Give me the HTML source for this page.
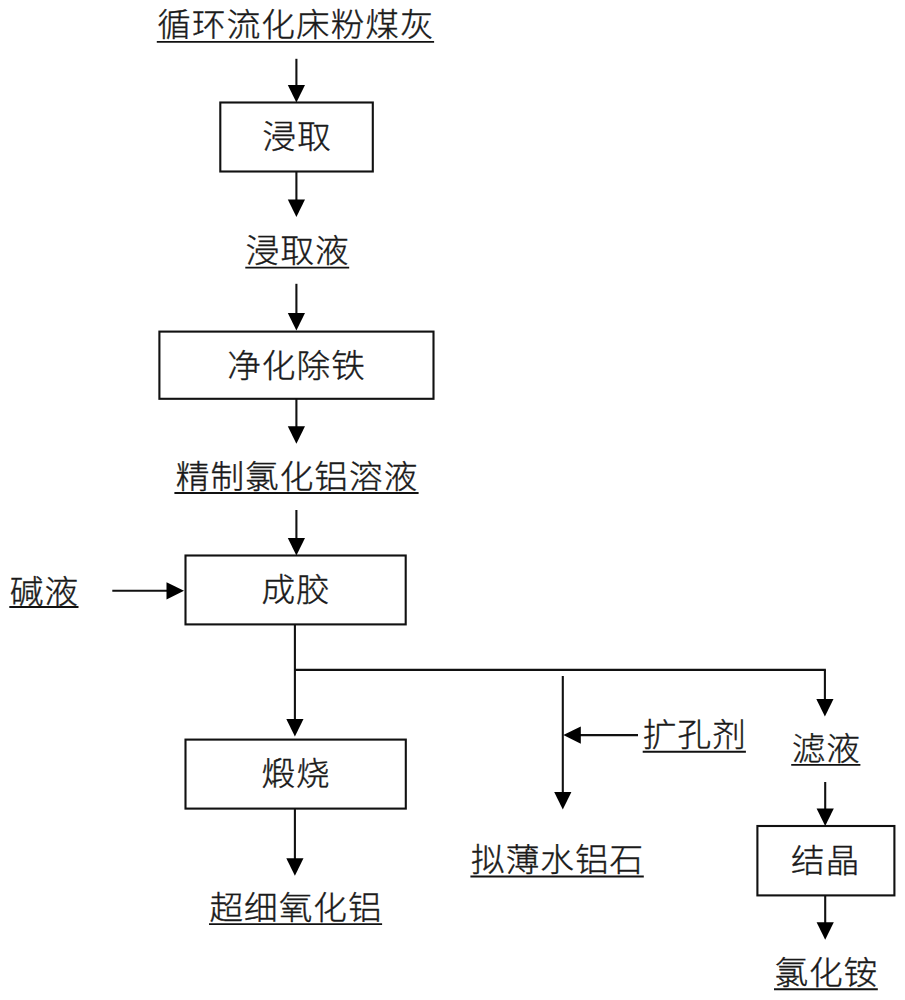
<!DOCTYPE html>
<html lang="zh-CN"><head><meta charset="utf-8"><title>工艺流程图</title>
<style>
html,body{margin:0;padding:0;background:#fff;}
body{width:905px;height:1000px;overflow:hidden;}
svg{display:block;}
text{font-family:"Liberation Sans", "Noto Sans CJK SC", sans-serif;font-size:33.6px;font-weight:300;letter-spacing:1.067px;fill:#1a1a1a;stroke:#1a1a1a;stroke-width:0.4px;text-anchor:middle;}
.ln{stroke:#111;stroke-width:2.1;fill:none;}
.bx{stroke:#111;stroke-width:2.1;fill:#fff;}
.hd{fill:#000;stroke:none;}
.ul{stroke:#111;stroke-width:1.9;fill:none;}
</style></head><body>
<svg width="905" height="1000" viewBox="0 0 905 1000" role="img" aria-label="循环流化床粉煤灰制备超细氧化铝工艺流程图">
<rect x="0" y="0" width="905" height="1000" fill="#fff"/>
<rect class="bx" x="220.30" y="102.50" width="152.50" height="69.00"/>
<rect class="bx" x="159.40" y="331.60" width="274.10" height="67.20"/>
<rect class="bx" x="185.50" y="555.50" width="220.20" height="68.90"/>
<rect class="bx" x="185.50" y="739.60" width="220.30" height="69.00"/>
<rect class="bx" x="757.40" y="826.00" width="137.00" height="69.40"/>
<line class="ln" x1="294.90" y1="669.90" x2="825.90" y2="669.90"/>
<line class="ln" x1="296.40" y1="58.80" x2="296.40" y2="86.90"/>
<polygon class="hd" points="296.40,102.40 287.80,84.90 305.00,84.90"/>
<line class="ln" x1="296.40" y1="171.50" x2="296.40" y2="201.50"/>
<polygon class="hd" points="296.40,217.00 287.80,199.50 305.00,199.50"/>
<line class="ln" x1="296.40" y1="283.80" x2="296.40" y2="314.90"/>
<polygon class="hd" points="296.40,330.40 287.80,312.90 305.00,312.90"/>
<line class="ln" x1="296.40" y1="398.80" x2="296.40" y2="428.30"/>
<polygon class="hd" points="296.40,443.80 287.80,426.30 305.00,426.30"/>
<line class="ln" x1="296.40" y1="510.00" x2="296.40" y2="539.90"/>
<polygon class="hd" points="296.40,555.40 287.80,537.90 305.00,537.90"/>
<line class="ln" x1="294.90" y1="624.40" x2="294.90" y2="721.00"/>
<polygon class="hd" points="294.90,736.50 286.30,719.00 303.50,719.00"/>
<line class="ln" x1="562.80" y1="676.00" x2="562.80" y2="793.90"/>
<polygon class="hd" points="562.80,809.40 554.20,791.90 571.40,791.90"/>
<line class="ln" x1="638.00" y1="735.10" x2="578.80" y2="735.10"/>
<polygon class="hd" points="563.30,735.10 580.80,726.50 580.80,743.70"/>
<line class="ln" x1="824.90" y1="670.00" x2="824.90" y2="701.10"/>
<polygon class="hd" points="824.90,716.60 816.30,699.10 833.50,699.10"/>
<line class="ln" x1="825.20" y1="782.00" x2="825.20" y2="810.50"/>
<polygon class="hd" points="825.20,826.00 816.60,808.50 833.80,808.50"/>
<line class="ln" x1="825.20" y1="895.40" x2="825.20" y2="924.30"/>
<polygon class="hd" points="825.20,939.80 816.60,922.30 833.80,922.30"/>
<line class="ln" x1="294.90" y1="808.60" x2="294.90" y2="860.30"/>
<polygon class="hd" points="294.90,875.80 286.30,858.30 303.50,858.30"/>
<line class="ln" x1="112.30" y1="590.80" x2="168.50" y2="590.80"/>
<polygon class="hd" points="184.00,590.80 166.50,599.40 166.50,582.20"/>
<text transform="translate(295.98 36.40) scale(1 0.96)">循环流化床粉煤灰</text>
<line class="ul" x1="156.80" y1="41.90" x2="434.10" y2="41.90"/>
<text transform="translate(297.13 148.40) scale(1 0.96)">浸取</text>
<text transform="translate(297.73 262.40) scale(1 0.96)">浸取液</text>
<line class="ul" x1="245.30" y1="267.60" x2="349.20" y2="267.60"/>
<text transform="translate(296.53 376.90) scale(1 0.96)">净化除铁</text>
<text transform="translate(297.03 488.20) scale(1 0.96)">精制氯化铝溶液</text>
<line class="ul" x1="174.40" y1="493.00" x2="418.60" y2="493.00"/>
<text transform="translate(296.03 601.40) scale(1 0.96)">成胶</text>
<text transform="translate(44.43 602.60) scale(1 0.96)">碱液</text>
<line class="ul" x1="9.30" y1="607.00" x2="78.50" y2="607.00"/>
<text transform="translate(296.03 784.90) scale(1 0.96)">煅烧</text>
<text transform="translate(694.83 746.40) scale(1 0.96)">扩孔剂</text>
<line class="ul" x1="642.70" y1="751.70" x2="745.90" y2="751.70"/>
<text transform="translate(826.33 759.90) scale(1 0.96)">滤液</text>
<line class="ul" x1="791.20" y1="764.90" x2="860.40" y2="764.90"/>
<text transform="translate(557.63 871.40) scale(1 0.96)">拟薄水铝石</text>
<line class="ul" x1="470.40" y1="876.50" x2="643.80" y2="876.50"/>
<text transform="translate(825.73 872.10) scale(1 0.96)">结晶</text>
<text transform="translate(826.43 983.90) scale(1 0.96)">氯化铵</text>
<line class="ul" x1="774.00" y1="989.30" x2="877.80" y2="989.30"/>
<text transform="translate(296.03 919.40) scale(1 0.96)">超细氧化铝</text>
<line class="ul" x1="209.00" y1="924.10" x2="382.10" y2="924.10"/>
</svg></body></html>
